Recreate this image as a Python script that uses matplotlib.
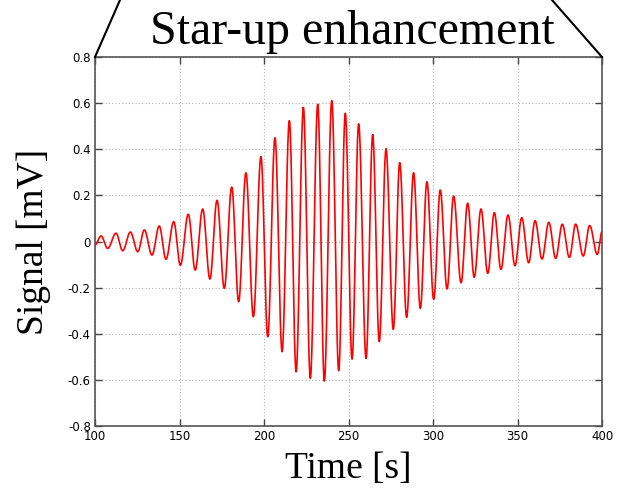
import numpy as np
import matplotlib
matplotlib.use('Agg')
import matplotlib.pyplot as plt
from matplotlib.lines import Line2D

# extrema (time in s, signal in mV)
peak_t = [103.6, 112.4, 120.9, 129.2, 138.0, 146.6, 155.2, 163.7, 172.2, 180.9,
          189.3, 198.2, 206.5, 215.0, 223.3, 231.8, 240.1, 248.1, 256.0, 264.3,
          272.2, 280.3, 288.5, 296.4, 304.3, 312.2, 320.5, 328.4, 336.3, 344.4,
          352.5, 360.4, 368.5, 376.5, 384.4, 392.7]
peak_v = [0.024, 0.036, 0.041, 0.050, 0.067, 0.086, 0.118, 0.141, 0.179, 0.236,
          0.298, 0.368, 0.450, 0.524, 0.580, 0.595, 0.611, 0.556, 0.510, 0.462,
          0.400, 0.342, 0.298, 0.259, 0.223, 0.197, 0.166, 0.141, 0.125, 0.115,
          0.103, 0.090, 0.083, 0.075, 0.075, 0.069]
trough_t = [107.5, 116.4, 125.3, 133.7, 142.0, 150.5, 159.3, 168.0, 176.5, 185.0,
            193.7, 202.2, 210.7, 219.0, 227.4, 235.7, 244.2, 252.1, 260.4, 268.2,
            276.5, 284.4, 292.5, 300.4, 308.3, 316.6, 324.4, 332.4, 340.2, 348.5,
            356.6, 364.5, 372.6, 380.7, 388.9, 397.2]
trough_v = [-0.030, -0.040, -0.044, -0.059, -0.077, -0.103, -0.124, -0.163, -0.203, -0.261,
            -0.326, -0.413, -0.478, -0.565, -0.593, -0.605, -0.560, -0.510, -0.507, -0.434,
            -0.381, -0.329, -0.290, -0.251, -0.206, -0.179, -0.155, -0.138, -0.121, -0.105,
            -0.092, -0.076, -0.073, -0.069, -0.063, -0.056]
start_pt = (100.0, -0.015)
end_pt = (400.0, 0.043)

xticks = [100, 150, 200, 250, 300, 350, 400]
yticks = [-0.8, -0.6, -0.4, -0.2, 0, 0.2, 0.4, 0.6, 0.8]
ytick_labels = ['-0.8', '-0.6', '-0.4', '-0.2', '0', '0.2', '0.4', '0.6', '0.8']

# join the extrema with half-cosine segments
kt = [start_pt[0]]
kv = [start_pt[1]]
for a, b, c, d in zip(peak_t, peak_v, trough_t, trough_v):
    kt += [a, c]
    kv += [b, d]
kt.append(end_pt[0])
kv.append(end_pt[1])

tt = []
vv = []
for i in range(len(kt) - 1):
    s = np.linspace(0, 1, 25)
    tt.append(kt[i] + (kt[i + 1] - kt[i]) * s)
    vv.append(kv[i] + (kv[i + 1] - kv[i]) * (1 - np.cos(np.pi * s)) / 2)
tt = np.concatenate(tt)
vv = np.concatenate(vv)

fig = plt.figure(figsize=(6.19, 4.94), dpi=100)
ax = fig.add_axes([95 / 619, 1 - 426 / 494, 507 / 619, 369 / 494])

ax.plot(tt, vv, color='#ff0000', lw=1.2)
ax.set_xlim(100, 400)
ax.set_ylim(-0.8, 0.8)
ax.set_xticks(xticks)
ax.set_yticks(yticks)
ax.set_yticklabels(ytick_labels)
ax.grid(True, ls=(0, (1, 2)), color='#b0b0b0', lw=0.8)
ax.tick_params(direction='in', top=True, right=True, length=5, width=1,
               color='#444444', labelsize=8.5, pad=3)
for sp in ax.spines.values():
    sp.set_color('#555555')
    sp.set_linewidth(1.2)

serif = ['Liberation Serif', 'DejaVu Serif']
ax.set_xlabel('Time [s]', family=serif, fontsize=27, labelpad=6)
ax.set_ylabel('Signal [mV]', family=serif, fontsize=27, labelpad=12)

# trapezoid callout above the axes
W, H = 619, 494
fig.add_artist(Line2D([95 / W, 120 / W], [1 - 57 / H, 1.0], color='black', lw=1.5))
fig.add_artist(Line2D([602 / W, 552 / W], [1 - 57 / H, 1.0], color='black', lw=1.5))
fig.text(352 / W, 1 - 44 / H, 'Star-up enhancement', family=serif, fontsize=34.5,
         ha='center', va='baseline')

fig.savefig('out.png', dpi=100)
